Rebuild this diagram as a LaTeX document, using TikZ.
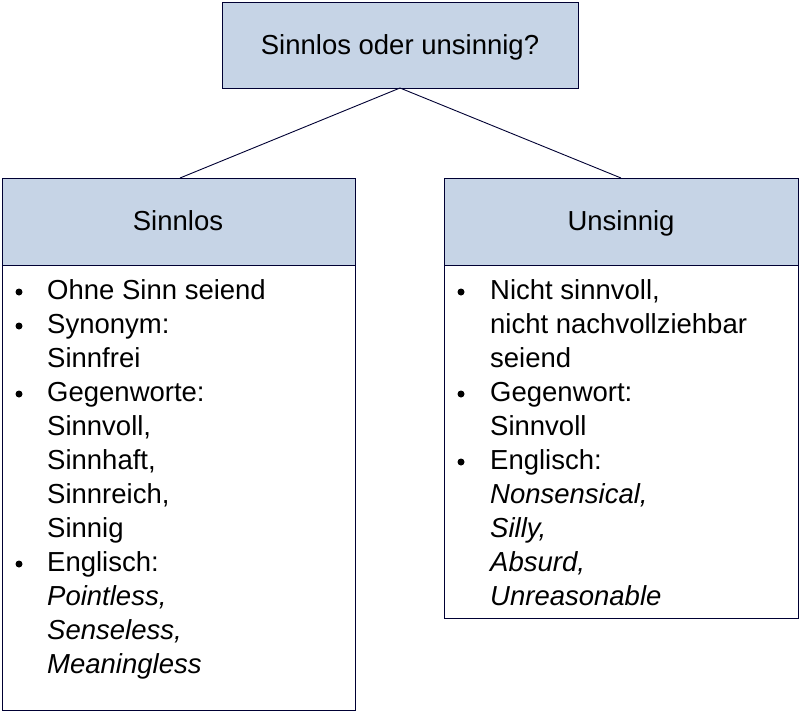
\documentclass[tikz,border=0pt]{standalone}
\usepackage{fontspec}
\setmainfont{Liberation Sans}
\definecolor{hdr}{HTML}{C6D4E6}
\begin{document}
\begin{tikzpicture}[x=1pt,y=-1pt,
  box/.style={draw=black!80!blue,line width=0.9pt},
  fnt/.style={font=\fontsize{27.5}{32}\selectfont},
  t/.style={anchor=west,inner sep=0pt,text height=20pt,text depth=6pt,fnt},
  ti/.style={t,font=\fontsize{27.5}{32}\selectfont\itshape},
  h/.style={inner sep=0pt,text height=20pt,text depth=6pt,fnt},
  b/.style={fill=black,circle,inner sep=0pt,minimum size=7pt}]
\useasboundingbox[fill=white] (0,0) rectangle (800,712);
\draw[box,fill=hdr] (222,2) rectangle (578,88);
\node[h] (top) at (400,47) {Sinnlos oder unsinnig?};
\draw[box,fill=hdr] (2,178) rectangle (355,265);
\draw[box,fill=white] (2,265) rectangle (355,710);
\node[h] (l) at (178,223) {Sinnlos};
\draw[box,fill=hdr] (444,178) rectangle (798,265);
\draw[box,fill=white] (444,265) rectangle (798,618);
\node[h] (r) at (621,223) {Unsinnig};
\coordinate (tb) at (400,88);
\coordinate (lt) at (180,178);
\coordinate (rt) at (621,178);
\draw[box] (lt) -- (tb) -- (rt);
% left
\foreach \y in {292,326,394,564} \node[b] at (19,\y) {};
\foreach \s/\y in {Ohne Sinn seiend/292, Synonym:/326, Sinnfrei/360, Gegenworte:/394, {Sinnvoll,}/428, {Sinnhaft,}/462, {Sinnreich,}/496, Sinnig/530, Englisch:/564}
  \node[t] at (47,\y) {\s};
\foreach \s/\y in {{Pointless,}/598, {Senseless,}/632, Meaningless/666}
  \node[ti] at (47,\y) {\s};
% right
\foreach \y in {292,394,462} \node[b] at (461,\y) {};
\foreach \s/\y in {{Nicht sinnvoll,}/292, nicht nachvollziehbar/326, seiend/360, Gegenwort:/394, Sinnvoll/428, Englisch:/462}
  \node[t] at (490,\y) {\s};
\foreach \s/\y in {{Nonsensical,}/496, {Silly,}/530, {Absurd,}/564, Unreasonable/598}
  \node[ti] at (490,\y) {\s};
\end{tikzpicture}
\end{document}
